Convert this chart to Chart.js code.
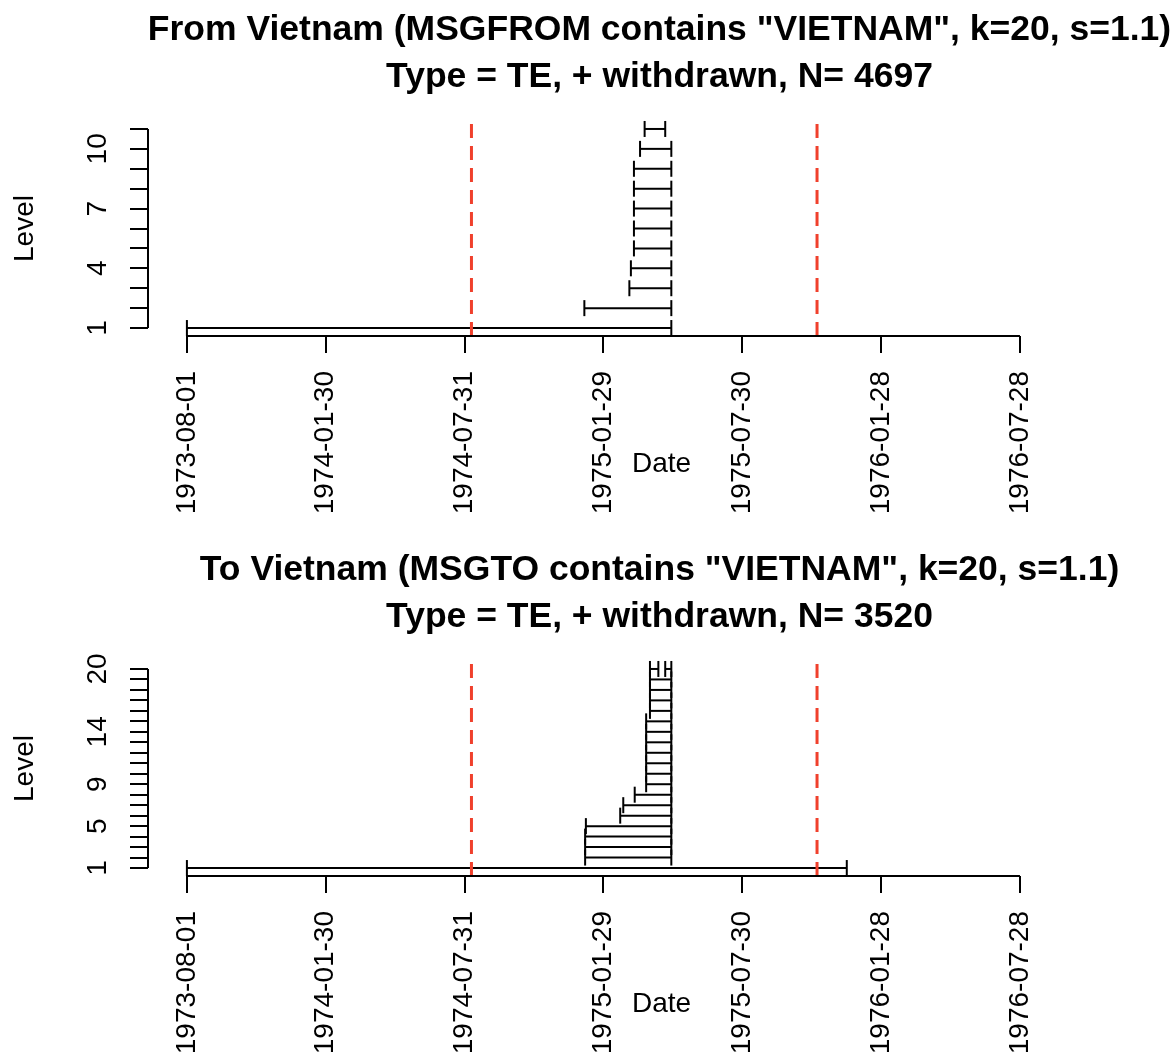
<!DOCTYPE html>
<html>
<head>
<meta charset="utf-8">
<title>Vietnam intervals</title>
<script src="https://cdn.jsdelivr.net/npm/chart.js@4.4.0/dist/chart.umd.min.js"></script>
<style>
  body { margin: 0; background: #fff; }
  canvas { position: absolute; left: 0; }
</style>
</head>
<body>
<canvas id="fromChart" width="1171" height="540" style="top:0"></canvas>
<canvas id="toChart" width="1171" height="519" style="top:540px"></canvas>
<script>
const FONT = '"Liberation Sans", Arial, Helvetica, sans-serif';
const RED = '#f0402c';

// x axis tick dates + the two dashed event lines
const xTickDates = ['1973-08-01', '1974-01-30', '1974-07-31', '1975-01-29', '1975-07-30', '1976-01-28', '1976-07-28'];
const eventDates = ['1974-08-09', '1975-11-05'];

// From Vietnam: one interval per level
const fromLevels = [1, 2, 3, 4, 5, 6, 7, 8, 9, 10, 11];
const fromStarts = ['1973-08-01', '1975-01-04', '1975-03-04', '1975-03-06', '1975-03-10', '1975-03-10',
  '1975-03-10', '1975-03-10', '1975-03-10', '1975-03-18', '1975-03-24'];
const fromEnds = ['1975-04-28', '1975-04-28', '1975-04-28', '1975-04-28', '1975-04-28', '1975-04-28',
  '1975-04-28', '1975-04-28', '1975-04-28', '1975-04-28', '1975-04-20'];
const fromYTicks = [1, 2, 3, 4, 5, 6, 7, 8, 9, 10, 11];
const fromYLabels = [1, 4, 7, 10];

// To Vietnam (level 20 holds two intervals)
const toLevels = [1, 2, 3, 4, 5, 6, 7, 8, 9, 10, 11, 12, 13, 14, 15, 16, 17, 18, 19, 20, 20];
const toStarts = ['1973-08-01', '1975-01-05', '1975-01-05', '1975-01-05', '1975-01-06', '1975-02-20',
  '1975-02-24', '1975-03-11', '1975-03-26', '1975-03-26', '1975-03-26', '1975-03-26', '1975-03-26',
  '1975-03-26', '1975-03-26', '1975-03-31', '1975-03-31', '1975-03-31', '1975-03-31', '1975-03-31', '1975-04-20'];
const toEnds = ['1975-12-14', '1975-04-28', '1975-04-28', '1975-04-28', '1975-04-28', '1975-04-28',
  '1975-04-28', '1975-04-28', '1975-04-28', '1975-04-28', '1975-04-28', '1975-04-28', '1975-04-28',
  '1975-04-28', '1975-04-28', '1975-04-28', '1975-04-28', '1975-04-28', '1975-04-28', '1975-04-11', '1975-04-28'];
const toYTicks = [1, 2, 3, 4, 5, 6, 7, 8, 9, 10, 11, 12, 13, 14, 15, 16, 17, 18, 19, 20];
const toYLabels = [1, 5, 9, 14, 20];

const BASE = Date.parse(xTickDates[0]);
function dayNum(s) {
    return (Date.parse(s) - BASE) / 86400000;
}
function dayLabel(v) {
    return new Date(BASE + v * 86400000).toISOString().slice(0, 10);
}

// R style axes, titles and axis labels
const rAxes = {
    id: 'rAxes',
    afterDraw(chart, args, opts) {
        const ctx = chart.ctx;
        const area = chart.chartArea;
        const xs = chart.scales.x, ys = chart.scales.y;
        const cx = (area.left + area.right) / 2;
        ctx.save();
        ctx.strokeStyle = '#000';
        ctx.lineWidth = 2;
        ctx.beginPath();
        ctx.moveTo(xs.getPixelForValue(dayNum(xTickDates[0])), area.bottom);
        ctx.lineTo(xs.getPixelForValue(dayNum(xTickDates[xTickDates.length - 1])), area.bottom);
        ctx.moveTo(area.left, ys.getPixelForValue(opts.yTicks[0]));
        ctx.lineTo(area.left, ys.getPixelForValue(opts.yTicks[opts.yTicks.length - 1]));
        ctx.stroke();

        ctx.fillStyle = '#000';
        ctx.textAlign = 'center';
        ctx.textBaseline = 'alphabetic';
        ctx.font = 'bold 35.5px ' + FONT;
        ctx.fillText(opts.title[0], cx, 40);
        ctx.fillText(opts.title[1], cx, 87);

        ctx.font = '28px ' + FONT;
        ctx.fillText('Date', cx + 2, 472);
        opts.yLabels.forEach(v => {
            ctx.save();
            ctx.translate(106, ys.getPixelForValue(v));
            ctx.rotate(-Math.PI / 2);
            ctx.fillText(String(v), 0, 0);
            ctx.restore();
        });
        ctx.translate(33, (area.top + area.bottom) / 2);
        ctx.rotate(-Math.PI / 2);
        ctx.fillText('Level', 0, 0);
        ctx.restore();
    }
};

function makeChart(id, levels, starts, ends, yTicks, yLabels, title) {
    const canvas = document.getElementById(id);
    const maxLevel = yTicks[yTicks.length - 1];
    const pad = (maxLevel - 1) * 0.04;
    const yMin = 1 - pad, yMax = maxLevel + pad;

    const datasets = [];
    eventDates.forEach(d => {
        datasets.push({
            data: [{x: dayNum(d), y: yMin}, {x: dayNum(d), y: yMax}],
            showLine: true,
            borderColor: RED,
            borderWidth: 3,
            borderDash: [14, 8],
            pointRadius: 0,
            order: 0
        });
    });
    levels.forEach((lv, i) => {
        datasets.push({
            data: [{x: dayNum(starts[i]), y: lv}, {x: dayNum(ends[i]), y: lv}],
            showLine: true,
            borderColor: '#000',
            borderWidth: 2,
            pointStyle: 'line',
            pointRotation: 90,
            pointRadius: 8,
            pointHoverRadius: 8,
            pointBorderColor: '#000',
            pointBorderWidth: 2,
            clip: false,
            order: 1
        });
    });

    return new Chart(canvas.getContext('2d'), {
        type: 'scatter',
        data: { datasets: datasets },
        options: {
            responsive: false,
            animation: false,
            events: [],
            layout: { autoPadding: false, padding: { top: 121, left: 0, right: 0, bottom: 0 } },
            plugins: {
                legend: { display: false },
                tooltip: { enabled: false },
                rAxes: { title: title, yTicks: yTicks, yLabels: yLabels }
            },
            scales: {
                x: {
                    type: 'linear',
                    min: -51,
                    max: 1290,
                    afterBuildTicks: s => { s.ticks = xTickDates.map(d => ({ value: dayNum(d) })); },
                    afterFit: s => { s.height = canvas.height - 336; },
                    grid: { drawOnChartArea: false, drawTicks: true, tickLength: 17, color: '#000', lineWidth: 2 },
                    border: { display: false },
                    ticks: {
                        autoSkip: false,
                        minRotation: 90,
                        maxRotation: 90,
                        padding: 18,
                        color: '#000',
                        font: { family: FONT, size: 28 },
                        callback: v => dayLabel(v)
                    }
                },
                y: {
                    type: 'linear',
                    min: yMin,
                    max: yMax,
                    afterBuildTicks: s => { s.ticks = yTicks.map(v => ({ value: v })); },
                    afterFit: s => { s.width = 148; },
                    grid: { drawOnChartArea: false, drawTicks: true, tickLength: 18, color: '#000', lineWidth: 2 },
                    border: { display: false },
                    ticks: { display: false }
                }
            }
        },
        plugins: [rAxes]
    });
}

makeChart('fromChart', fromLevels, fromStarts, fromEnds, fromYTicks, fromYLabels,
    ['From Vietnam (MSGFROM contains "VIETNAM", k=20, s=1.1)', 'Type = TE, + withdrawn, N= 4697']);
makeChart('toChart', toLevels, toStarts, toEnds, toYTicks, toYLabels,
    ['To Vietnam (MSGTO contains "VIETNAM", k=20, s=1.1)', 'Type = TE, + withdrawn, N= 3520']);
</script>
</body>
</html>
